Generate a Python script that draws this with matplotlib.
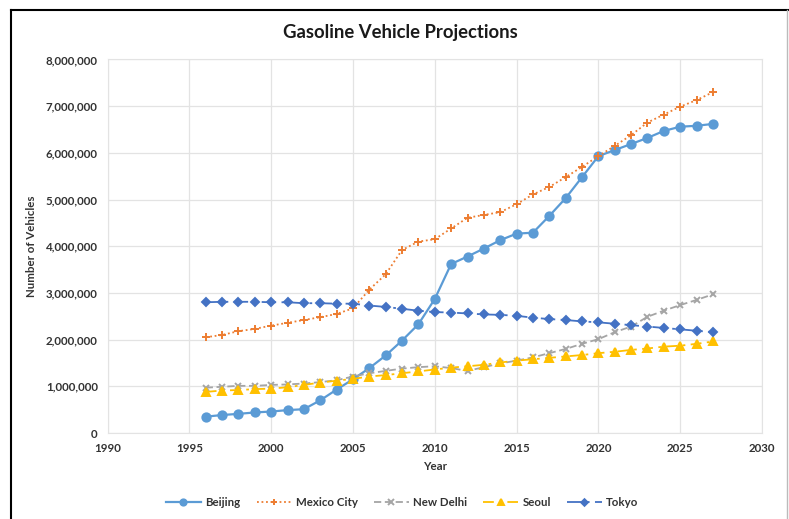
import matplotlib.pyplot as plt
from matplotlib.lines import Line2D
from matplotlib.ticker import FuncFormatter

plt.rcParams['font.family'] = ['Lato', 'DejaVu Sans']

years = list(range(1996, 2028))

beijing = [350000, 385000, 410000, 440000, 460000, 490000, 510000, 700000,
           930000, 1150000, 1390000, 1660000, 1980000, 2330000, 2870000, 3620000,
           3780000, 3950000, 4130000, 4270000, 4290000, 4650000, 5030000, 5480000,
           5930000, 6060000, 6190000, 6320000, 6470000, 6560000, 6580000, 6620000]
mexico_city = [2050000, 2100000, 2180000, 2230000, 2300000, 2360000, 2420000, 2480000,
               2550000, 2670000, 3070000, 3400000, 3920000, 4100000, 4150000, 4380000,
               4610000, 4670000, 4730000, 4900000, 5110000, 5270000, 5480000, 5700000,
               5930000, 6150000, 6380000, 6650000, 6820000, 6990000, 7130000, 7300000]
new_delhi = [970000, 990000, 1010000, 1010000, 1030000, 1040000, 1060000, 1090000,
             1130000, 1210000, 1280000, 1330000, 1380000, 1410000, 1430000, 1390000,
             1330000, 1410000, 1490000, 1550000, 1620000, 1710000, 1800000, 1910000,
             2010000, 2160000, 2280000, 2490000, 2620000, 2740000, 2850000, 2970000]
seoul = [880000, 910000, 920000, 940000, 950000, 980000, 1030000, 1080000,
         1120000, 1160000, 1210000, 1240000, 1280000, 1320000, 1360000, 1400000,
         1430000, 1460000, 1510000, 1550000, 1580000, 1610000, 1640000, 1670000,
         1710000, 1740000, 1780000, 1810000, 1850000, 1870000, 1910000, 1960000]
tokyo = [2800000, 2810000, 2810000, 2810000, 2800000, 2800000, 2780000, 2780000,
         2770000, 2770000, 2730000, 2700000, 2660000, 2620000, 2590000, 2580000,
         2560000, 2540000, 2530000, 2510000, 2470000, 2440000, 2420000, 2390000,
         2370000, 2340000, 2310000, 2280000, 2250000, 2220000, 2190000, 2160000]

series = [
    ('Beijing', beijing, '#5B9BD5', '-', 'o', 6),
    ('Mexico City', mexico_city, '#ED7D31', (0, (1, 1.5)), '+', 6),
    ('New Delhi', new_delhi, '#A5A5A5', (0, (4, 2)), 'x', 5),
    ('Seoul', seoul, '#FFC000', (0, (6, 3, 1.5, 3)), '^', 6),
    ('Tokyo', tokyo, '#4472C4', (0, (8, 3, 1.5, 3)), 'D', 4.5),
]

fig = plt.figure(figsize=(7.89, 5.19), dpi=100)
ax = fig.add_axes([0.1363, 0.1657, 0.8295, 0.7197])

for name, vals, color, ls, marker, ms in series:
    ax.plot(years, vals, color=color, linestyle=ls, linewidth=1.6 if ls == '-' else 1.3,
            marker=marker, markersize=ms, markeredgewidth=1.4, label=name)

ax.set_xlim(1990, 2030)
ax.set_ylim(0, 8000000)
ax.set_xticks(range(1990, 2031, 5))
ax.set_yticks(range(0, 8000001, 1000000))
ax.yaxis.set_major_formatter(FuncFormatter(lambda v, p: f'{int(v):,}'))
ax.grid(True, color='#E3E3E3', linewidth=0.9)
ax.set_axisbelow(True)
for s in ax.spines.values():
    s.set_color('#E3E3E3')
ax.tick_params(length=0, labelsize=8.3, labelcolor='#333333', pad=7)
for lbl in ax.get_xticklabels() + ax.get_yticklabels():
    lbl.set_fontweight('bold')

ax.set_xlabel('Year', fontsize=8.3, fontweight='bold', color='#333333', labelpad=5)
ax.set_ylabel('Number of Vehicles', fontsize=8.3, fontweight='bold', color='#333333', labelpad=6)
fig.text(0.507, 0.938, 'Gasoline Vehicle Projections', ha='center', va='center',
         fontsize=13.3, fontweight='bold', color='#1a1a1a')

leg = ax.legend(loc='center', bbox_to_anchor=(0.51, 0.031), bbox_transform=fig.transFigure,
                ncol=5, frameon=False, handlelength=3, columnspacing=1.4, handletextpad=0.4,
                markerscale=0.75, prop={'weight': 'bold', 'size': 8.3})
for t in leg.get_texts():
    t.set_color('#333333')
    t.set_fontweight('bold')

# outer chart frame
fig.add_artist(Line2D([11 / 789, 11 / 789], [0, 1 - 10 / 519], color='black', linewidth=1.5))
fig.add_artist(Line2D([11 / 789, 1], [1 - 10 / 519, 1 - 10 / 519], color='black', linewidth=1.5))
fig.add_artist(Line2D([787 / 789, 787 / 789], [0, 1 - 10 / 519], color='#BBBBBB', linewidth=1))

fig.savefig('out.png', dpi=100)
